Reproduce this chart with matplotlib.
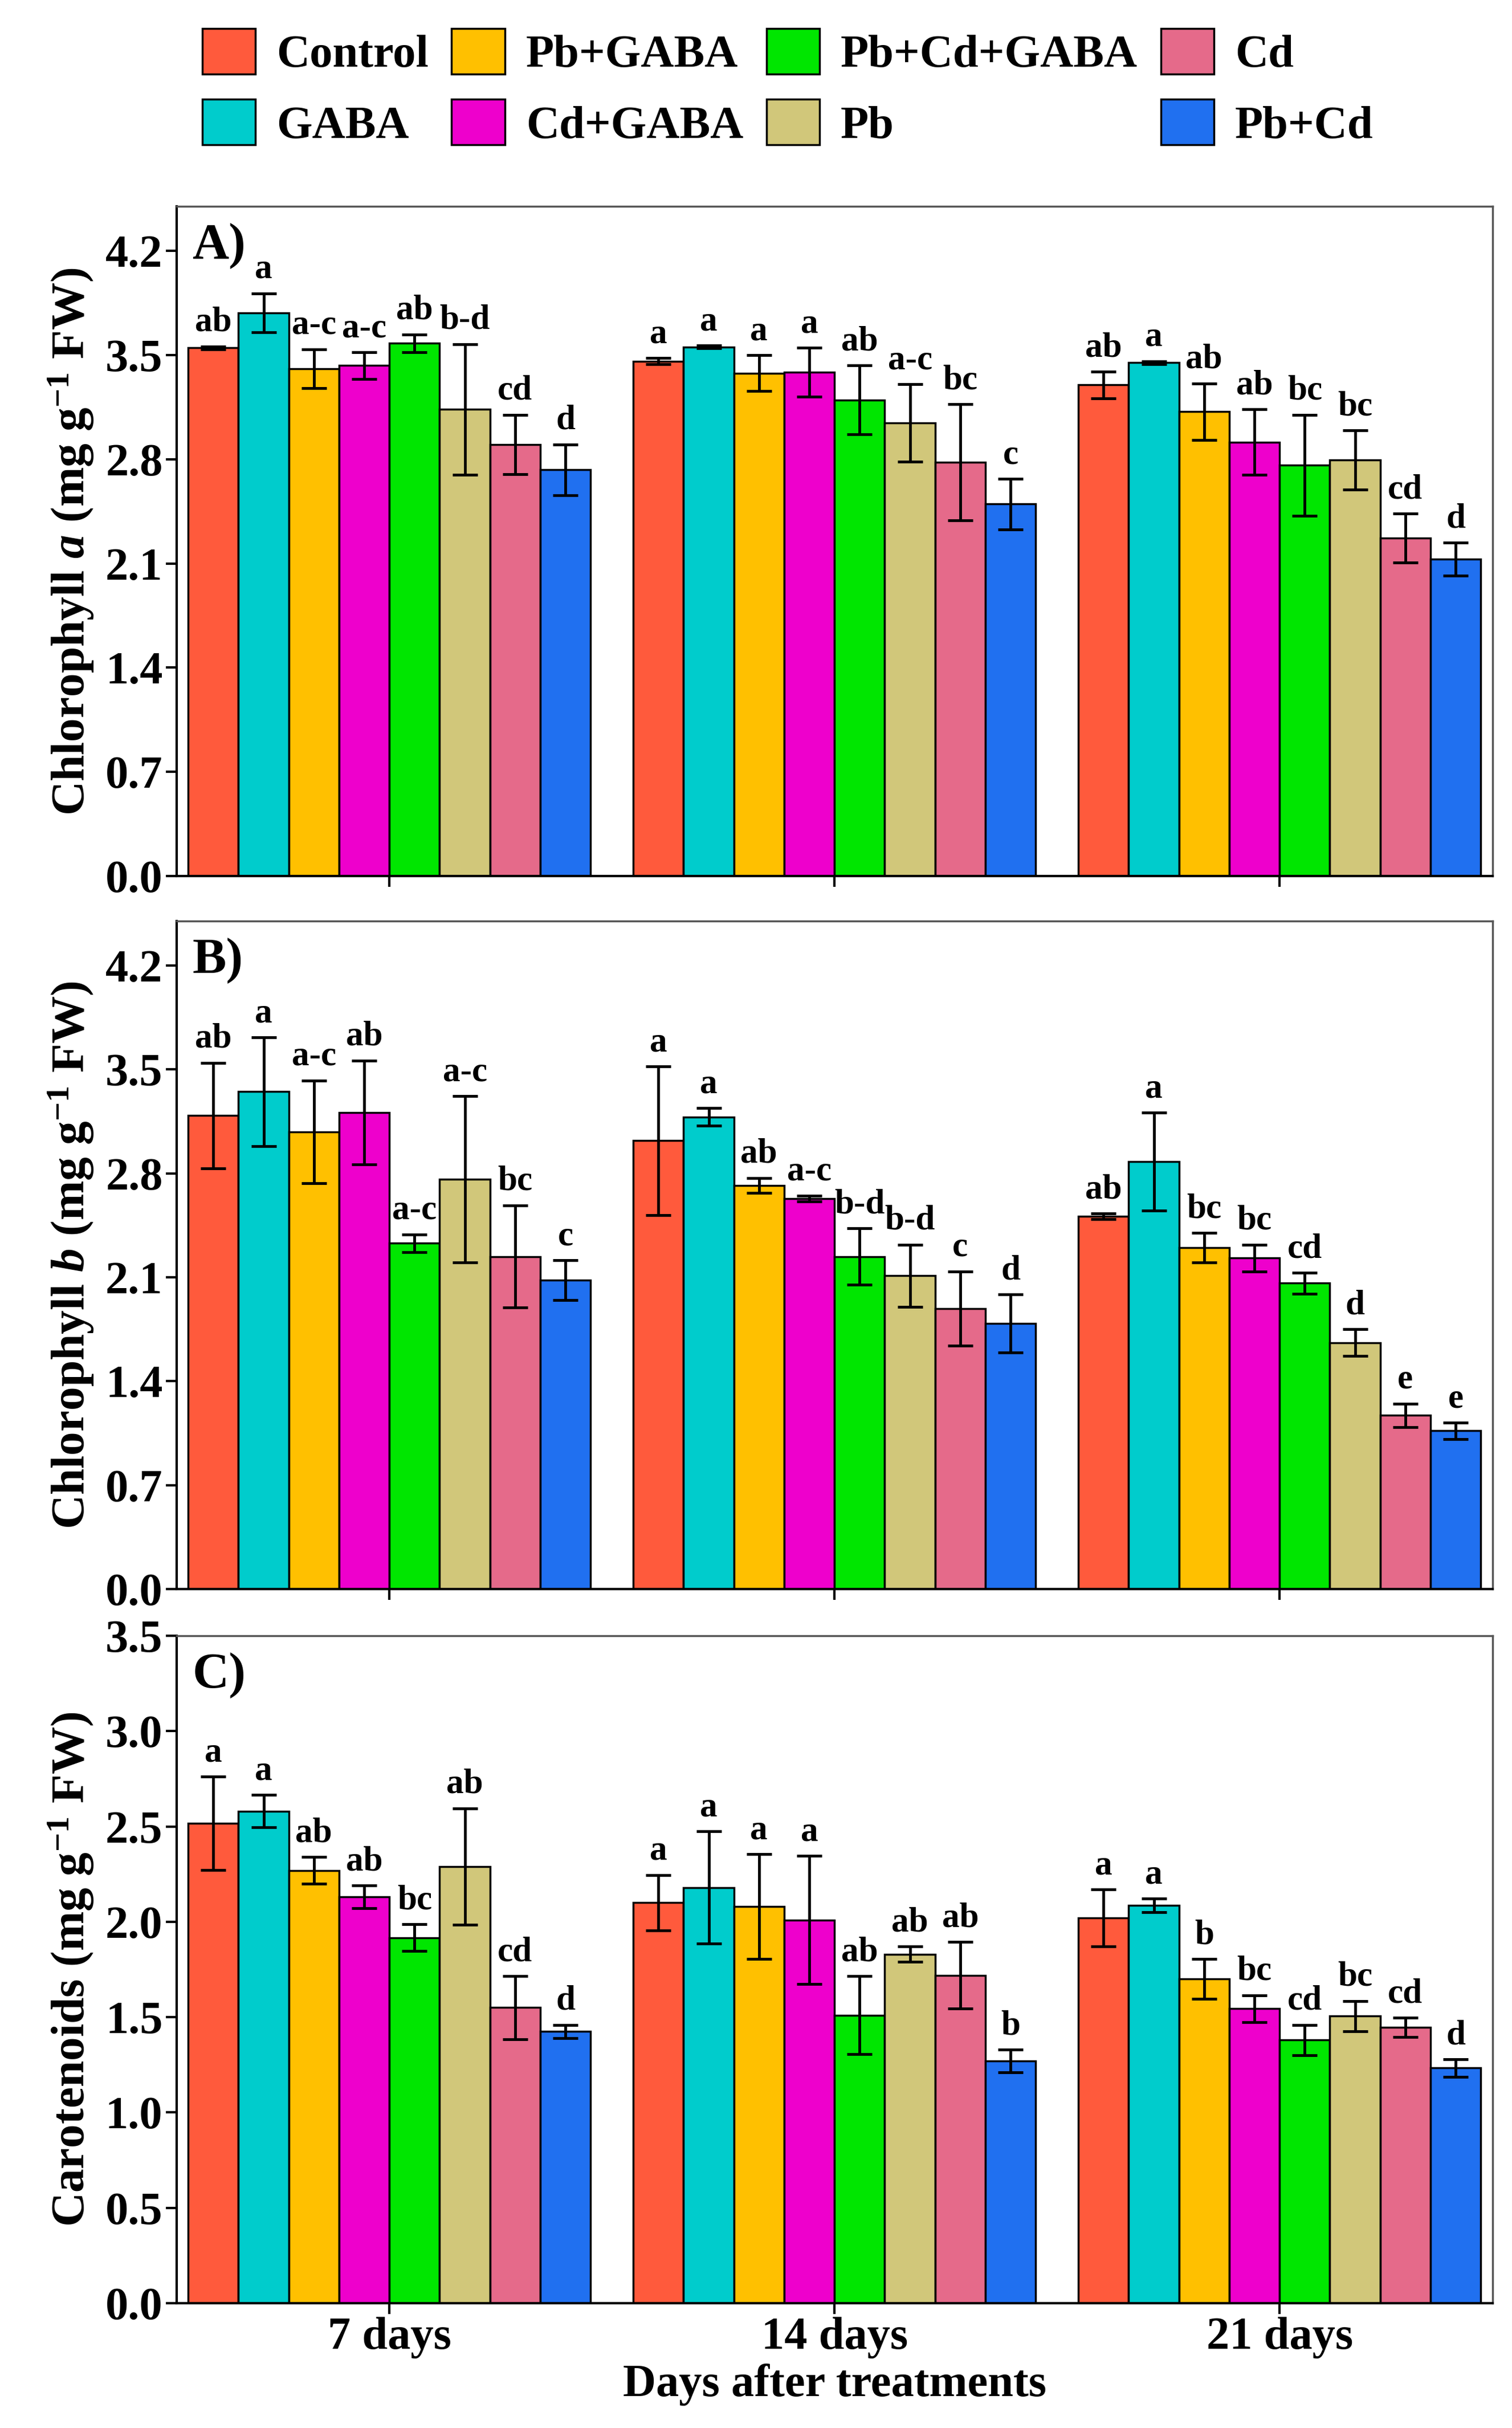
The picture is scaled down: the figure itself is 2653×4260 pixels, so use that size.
import matplotlib
matplotlib.use('Agg')
import matplotlib.pyplot as plt
import numpy as np
from matplotlib.patches import Patch

# Chart data
treatments = ['Control', 'GABA', 'Pb+GABA', 'Cd+GABA', 'Pb+Cd+GABA', 'Pb', 'Cd', 'Pb+Cd']
colors = ['#FF5A3C', '#00CCCC', '#FFC000', '#EE00CC', '#00E600', '#D1C77A', '#E56A8A', '#2070F0']
days = ['7 days', '14 days', '21 days']

# rows = days, cols = treatments
chla_mean = [[3.55, 3.785, 3.41, 3.43, 3.58, 3.135, 2.90, 2.73],
             [3.46, 3.555, 3.38, 3.385, 3.20, 3.045, 2.78, 2.50],
             [3.30, 3.45, 3.12, 2.915, 2.76, 2.795, 2.27, 2.13]]
chla_err = [[0.01, 0.13, 0.13, 0.09, 0.06, 0.44, 0.20, 0.17],
            [0.02, 0.01, 0.12, 0.165, 0.23, 0.26, 0.39, 0.17],
            [0.09, 0.01, 0.19, 0.22, 0.34, 0.20, 0.165, 0.11]]
chla_letters = [['ab', 'a', 'a-c', 'a-c', 'ab', 'b-d', 'cd', 'd'],
                ['a', 'a', 'a', 'a', 'ab', 'a-c', 'bc', 'c'],
                ['ab', 'a', 'ab', 'ab', 'bc', 'bc', 'cd', 'd']]

chlb_mean = [[3.19, 3.35, 3.08, 3.21, 2.33, 2.76, 2.24, 2.08],
             [3.02, 3.18, 2.72, 2.63, 2.24, 2.11, 1.89, 1.79],
             [2.51, 2.88, 2.30, 2.23, 2.06, 1.66, 1.17, 1.066]]
chlb_err = [[0.355, 0.365, 0.345, 0.35, 0.06, 0.56, 0.345, 0.135],
            [0.50, 0.06, 0.05, 0.02, 0.19, 0.21, 0.25, 0.195],
            [0.02, 0.33, 0.10, 0.09, 0.07, 0.09, 0.08, 0.055]]
chlb_letters = [['ab', 'a', 'a-c', 'ab', 'a-c', 'a-c', 'bc', 'c'],
                ['a', 'a', 'ab', 'a-c', 'b-d', 'b-d', 'c', 'd'],
                ['ab', 'a', 'bc', 'bc', 'cd', 'd', 'e', 'e']]

car_mean = [[2.517, 2.58, 2.27, 2.13, 1.917, 2.29, 1.55, 1.425],
            [2.10, 2.18, 2.08, 2.01, 1.51, 1.83, 1.72, 1.27],
            [2.02, 2.086, 1.70, 1.545, 1.38, 1.505, 1.447, 1.233]]
car_err = [[0.245, 0.085, 0.07, 0.06, 0.07, 0.305, 0.165, 0.035],
           [0.145, 0.295, 0.275, 0.335, 0.205, 0.04, 0.175, 0.06],
           [0.15, 0.035, 0.105, 0.07, 0.08, 0.08, 0.05, 0.045]]
car_letters = [['a', 'a', 'ab', 'ab', 'bc', 'ab', 'cd', 'd'],
               ['a', 'a', 'a', 'a', 'ab', 'ab', 'ab', 'b'],
               ['a', 'a', 'b', 'bc', 'cd', 'bc', 'cd', 'd']]

plt.rcParams['font.family'] = 'Liberation Serif'
plt.rcParams['font.weight'] = 'bold'
plt.rcParams['mathtext.fontset'] = 'custom'
plt.rcParams['mathtext.rm'] = 'Liberation Serif:bold'
plt.rcParams['mathtext.it'] = 'Liberation Serif:italic:bold'
plt.rcParams['mathtext.bf'] = 'Liberation Serif:bold'

fig = plt.figure(figsize=(26.53, 42.60), dpi=100)

panels = [
    ('A)', r'Chlorophyll $\mathit{a}$ (mg g$^{-1}$ FW)', chla_mean, chla_err, chla_letters,
     4.5, np.arange(0, 4.21, 0.7), [0.1168, 0.6392, 0.8702, 0.2758]),
    ('B)', r'Chlorophyll $\mathit{b}$ (mg g$^{-1}$ FW)', chlb_mean, chlb_err, chlb_letters,
     4.5, np.arange(0, 4.21, 0.7), [0.1168, 0.3455, 0.8702, 0.2752]),
    ('C)', r'Carotenoids (mg g$^{-1}$ FW)', car_mean, car_err, car_letters,
     3.5, np.arange(0, 3.51, 0.5), [0.1168, 0.0514, 0.8702, 0.2749]),
]

nbar = len(treatments)
width = 0.113
x = np.arange(len(days))

for idx, (tag, ylab, mean, err, letters, ytop, yticks, rect) in enumerate(panels):
    ax = fig.add_axes(rect)
    mean = np.array(mean)
    err = np.array(err)
    for j in range(nbar):
        xpos = x + (j - (nbar - 1) / 2.0) * width
        ax.bar(xpos, mean[:, j], width, color=colors[j], edgecolor='black',
               linewidth=2.5, zorder=2)
        ax.errorbar(xpos, mean[:, j], yerr=err[:, j], fmt='none', ecolor='black',
                    elinewidth=3.5, capsize=16, capthick=3.5, zorder=3)
        for i in range(len(days)):
            ax.annotate(letters[i][j], (xpos[i], mean[i, j] + err[i, j]),
                        xytext=(0, 10), textcoords='offset points',
                        ha='center', va='bottom', fontsize=44, fontweight='bold')

    ax.set_xlim(-0.478, 2.478)
    ax.set_ylim(0, ytop)
    ax.set_yticks(yticks)
    ax.set_yticklabels(['%.1f' % v for v in yticks])
    ax.set_xticks(x)
    if idx == 2:
        ax.set_xticklabels(days)
        ax.set_xlabel('Days after treatments', fontsize=58, fontweight='bold', labelpad=6)
    else:
        ax.set_xticklabels([])
    ax.tick_params(axis='both', labelsize=58, width=3, length=14, direction='out')
    ax.set_ylabel(ylab, fontsize=60, fontweight='bold', labelpad=12)
    for s in ['left', 'bottom']:
        ax.spines[s].set_linewidth(3)
        ax.spines[s].set_color('black')
    for s in ['top', 'right']:
        ax.spines[s].set_linewidth(2.5)
        ax.spines[s].set_color('#555555')
    ax.text(0.012, 0.975, tag, transform=ax.transAxes, fontsize=64,
            fontweight='bold', ha='left', va='top')

handles = [Patch(facecolor=c, edgecolor='black', linewidth=2.5) for c in colors]
fig.legend(handles, treatments, loc='center', bbox_to_anchor=(0.521, 0.9638),
           ncol=4, frameon=False, fontsize=58, handlelength=1.16, handleheight=1.15,
           handletextpad=0.46, columnspacing=0.5, labelspacing=0.5)

fig.savefig('out.png', dpi=100)
